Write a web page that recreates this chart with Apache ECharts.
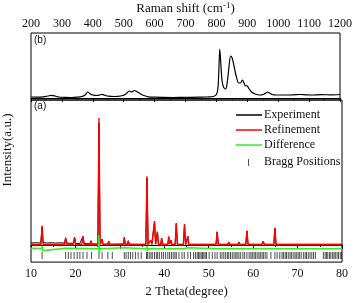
<!DOCTYPE html>
<html><head><meta charset="utf-8">
<script src="https://cdn.jsdelivr.net/npm/echarts@6/dist/echarts.min.js"></script>
<style>html,body{margin:0;padding:0;background:#fff}#c{width:355px;height:303px}</style>
</head><body><div id="c"></div>
<script>
// ---- data ----
var ramanTicks = [200,300,400,500,600,700,800,900,1000,1100,1200];
var thetaTicks = [10,20,30,40,50,60,70,80];
// Raman spectrum (b): [shift cm-1, intensity]
var raman = [[200,1],[220,0.8],[240,1.2],[255,2],[265,2.6],[278,2],[290,1],[310,0.6],[330,0.5],[350,0.8],[365,1.5],[375,3],[384,6],[392,4],[400,3],[412,2.5],[422,3],[430,3.6],[438,2.8],[450,1.8],[470,1.5],[490,2],[505,3.5],[518,7],[526,6],[534,7.5],[545,6],[555,4],[565,2.5],[580,1.2],[600,0.8],[630,0.6],[660,0.5],[700,0.6],[740,0.8],[770,1],[790,1.5],[800,3.5],[805,10],[808,28],[811,49],[814,36],[818,18],[823,11],[830,9],[836,18],[841,32],[846,42],[851,40],[857,32],[864,22],[872,15],[878,15],[884,18],[888,16],[893,12.5],[900,12],[906,9],[914,6],[925,4],[940,3],[952,3.5],[960,5],[966,6],[972,5],[980,3.5],[995,3],[1020,3],[1050,3.2],[1070,3.5],[1090,3.2],[1110,3],[1140,3.3],[1170,3.2],[1200,3.5]];
// XRD (a): experiment, refinement, difference [2theta, intensity]
var experiment = [[10,2],[11,2.3],[12.2,2],[12.3,2.5],[12.5,19],[12.7,2.5],[13.5,2],[14.5,2.2],[15.5,2],[16.5,2.2],[17.55,2],[17.8,7.5],[18.05,2],[18.7,1.8],[18.9,3],[19.1,1.8],[19.55,1.8],[19.8,8],[20.05,1.6],[21,1.5],[21.45,1.5],[21.7,9],[21.95,1.4],[23.3,1.2],[23.5,4.5],[23.7,1],[25.05,1],[25.3,128],[25.55,0.8],[25.8,0.8],[26.0,6],[26.2,0.8],[27.3,0.8],[27.5,4],[27.7,0.8],[29,0.8],[30.8,1],[31.0,8],[31.2,1],[31.7,0.8],[31.9,4.5],[32.1,0.8],[34,0.6],[35.85,0.6],[36.1,70],[36.35,0.6],[36.8,0.6],[37.0,5],[37.2,0.6],[37.55,0.6],[37.8,24],[38.05,0.8],[38.25,0.8],[38.45,13],[38.7,0.6],[39.2,0.6],[39.4,7],[39.6,0.6],[40.8,0.6],[41.0,8],[41.2,1],[41.35,1],[41.5,4.5],[41.7,0.6],[42.45,0.6],[42.7,22],[42.95,0.6],[44.3,0.6],[44.55,21],[44.8,0.6],[45.1,0.6],[45.3,9],[45.5,0.6],[46.8,0.6],[47.0,2],[47.2,0.6],[48.3,0.6],[48.5,2],[48.7,0.6],[51.65,0.6],[51.9,13.5],[52.15,0.6],[54.3,0.6],[54.5,3],[54.7,0.6],[56.6,0.6],[56.8,3],[57.0,0.6],[58.35,0.6],[58.6,14.5],[58.85,0.6],[62.0,0.6],[62.25,4],[62.5,0.6],[64.65,0.6],[64.9,17.5],[65.15,0.6],[68.1,0.6],[68.3,2],[68.5,0.6],[76.3,0.6],[76.5,2],[76.7,0.6],[80,0.6]];
var refinement = [[10,0.5],[12.25,0.5],[12.5,20],[12.75,0.5],[17.55,0.5],[17.8,7],[18.05,0.5],[18.7,0.5],[18.9,2],[19.1,0.5],[19.55,0.5],[19.8,8],[20.05,0.5],[21.45,0.5],[21.7,9],[21.95,0.5],[23.3,0.5],[23.5,4],[23.7,0.5],[25.05,0.5],[25.3,133],[25.55,0.5],[25.8,0.5],[26.0,6],[26.2,0.5],[27.3,0.5],[27.5,4],[27.7,0.5],[30.8,0.5],[31.0,7],[31.2,0.5],[31.7,0.5],[31.9,4],[32.1,0.5],[35.85,0.5],[36.1,72],[36.35,0.5],[36.8,0.5],[37.0,5],[37.2,0.5],[37.55,0.5],[37.8,25],[38.05,0.8],[38.25,0.8],[38.45,14],[38.7,0.5],[39.2,0.5],[39.4,7],[39.6,0.5],[40.8,0.5],[41.0,9],[41.2,1],[41.35,1],[41.5,5],[41.7,0.5],[42.45,0.5],[42.7,23],[42.95,0.5],[44.3,0.5],[44.55,22],[44.8,0.5],[45.1,0.5],[45.3,9],[45.5,0.5],[46.8,0.5],[47.0,2],[47.2,0.5],[48.3,0.5],[48.5,2],[48.7,0.5],[49.5,0.5],[49.7,1.5],[49.9,0.5],[51.65,0.5],[51.9,14],[52.15,0.5],[54.3,0.5],[54.5,3],[54.7,0.5],[56.6,0.5],[56.8,3],[57.0,0.5],[58.35,0.5],[58.6,15],[58.85,0.5],[62.0,0.5],[62.25,4],[62.5,0.5],[64.65,0.5],[64.9,18],[65.15,0.5],[68.1,0.5],[68.3,2],[68.5,0.5],[76.3,0.5],[76.5,2],[76.7,0.5],[80,0.5]];
var difference = [[10,-3.5],[12.4,-3.8],[12.5,-1.5],[12.6,-6],[12.7,-4],[17.8,-3.5],[17.9,-4.5],[18,-4],[25.15,-4],[25.25,10],[25.35,-9],[25.5,-4],[31,-3],[31.1,-4],[36.0,-4],[36.1,-1],[36.2,-6.5],[36.3,-4],[37.7,-4],[37.8,-2.5],[37.9,-5],[38,-4],[42.6,-4],[42.7,-3],[42.8,-5],[42.9,-4],[44.45,-4],[44.55,-2.5],[44.65,-5],[44.75,-4],[45.3,-3],[45.4,-4.5],[45.5,-4],[51.8,-4],[51.9,-2.8],[52,-4.8],[52.1,-4],[58.5,-4],[58.6,-2.8],[58.7,-4.8],[58.8,-4],[64.8,-4],[64.9,-2.5],[65,-5],[65.1,-4],[80,-4]];
var bragg = [12.5,17.8,18.4,19.0,19.7,20.4,21.0,21.7,22.6,23.6,25.3,26.0,27.3,28.3,31.0,31.4,31.9,32.4,32.9,33.5,34.1,34.8,36.0,36.2,36.6,37.0,37.3,37.8,38.2,38.5,38.9,39.4,39.8,40.3,40.8,41.2,41.6,42.0,42.4,42.7,43.3,44.0,44.5,45.3,45.9,46.6,47.0,47.4,47.7,48.0,48.3,48.6,48.9,49.2,49.5,50.1,50.8,51.4,51.9,52.6,53.0,53.4,53.8,54.2,54.5,54.9,55.3,55.7,56.1,56.4,56.8,57.2,57.7,58.1,58.6,59.1,59.5,59.8,60.2,60.5,60.9,61.3,61.6,62.0,62.3,62.7,63.1,64.0,64.9,65.4,66.0,66.5,66.8,67.2,67.5,67.9,68.3,68.6,69.0,69.4,69.7,70.1,70.4,70.8,71.3,71.7,72.0,72.4,72.8,73.2,73.6,74.0,75.8,76.2,76.5,76.8,77.2,77.5,77.9,78.2,78.5,78.9,79.2,79.6,79.9];
var braggLevel = -11;
var legendNames = ['Experiment','Refinement','Difference','Bragg Positions'];

// ---- chart ----
var SERIF = '"Liberation Serif","Times New Roman",serif';
var chart = echarts.init(document.getElementById('c'), null, {renderer:'canvas'});
var braggData = bragg.map(function(v){return [v, braggLevel];});
function xAx(grid, pos, min, max, interval, name, gap, inside, margin){
  return {gridIndex:grid, type:'value', position:pos, min:min, max:max, interval:interval,
    name:name, nameLocation:'middle', nameGap:gap,
    nameTextStyle:{fontFamily:SERIF, fontSize:13, color:'#111'},
    axisLine:{show:true, lineStyle:{color:'#000', width:1}},
    axisTick:{show:true, inside:inside, length:4, lineStyle:{color:'#000'}},
    minorTick:{show:true, splitNumber:2, length:2, lineStyle:{color:'#000'}},
    axisLabel:{fontFamily:SERIF, fontSize:12, color:'#111', margin:margin,
      formatter:function(v){return String(v);}},
    splitLine:{show:false}};
}
var option = {
  animation:false,
  grid:[
    {left:31, right:13, top:33, height:67, show:true, borderColor:'#000', borderWidth:1},
    {left:31, right:13, top:100, height:170, show:true, borderColor:'#000', borderWidth:1}
  ],
  xAxis:[
    Object.assign(xAx(0,'top',200,1200,100,'',0,true,3), {name:'{n|Raman shift (cm}{s|-1}{n|)}', nameGap:16,
      nameTextStyle:{rich:{n:{fontFamily:SERIF,fontSize:13,color:'#111',lineHeight:16},
                           s:{fontFamily:SERIF,fontSize:9,color:'#111',verticalAlign:'top',lineHeight:10}}}}),
    xAx(1,'bottom',10,80,10,'2 Theta(degree)',18,false,6)
  ],
  yAxis:[
    {gridIndex:0, type:'value', min:-2, max:65, show:false},
    {gridIndex:1, type:'value', min:-18, max:152, show:false}
  ],
  series:[
    {name:'Raman', type:'line', xAxisIndex:0, yAxisIndex:0, data:raman, showSymbol:false, symbol:'none', smooth:0.3,
      lineStyle:{color:'#000', width:1.2}},
    {name:legendNames[0], type:'line', xAxisIndex:1, yAxisIndex:1, data:experiment, symbol:'none',
      lineStyle:{color:'#000', width:1}},
    {name:legendNames[1], type:'line', xAxisIndex:1, yAxisIndex:1, data:refinement, symbol:'none',
      lineStyle:{color:'#ff0000', width:1.4}},
    {name:legendNames[2], type:'line', xAxisIndex:1, yAxisIndex:1, data:difference, symbol:'none',
      lineStyle:{color:'#33ee22', width:1.6}},
    {name:legendNames[3], type:'scatter', xAxisIndex:1, yAxisIndex:1, data:braggData, symbol:'rect',
      symbolSize:[1,7], itemStyle:{color:'#222'}}
  ],
  graphic:[
    {type:'text', left:34, top:35, style:{text:'(b)', fontFamily:'"Liberation Sans",Arial,sans-serif', fontSize:10, fill:'#111'}},
    {type:'text', left:34, top:101, style:{text:'(a)', fontFamily:'"Liberation Sans",Arial,sans-serif', fontSize:10, fill:'#111'}},
    {type:'text', x:8, y:150, rotation:Math.PI/2, style:{text:'Intensity(a.u.)', fontFamily:SERIF, fontSize:13, fill:'#111', align:'center', verticalAlign:'middle'}},
    {type:'line', shape:{x1:236,y1:115,x2:262,y2:115}, style:{stroke:'#000', lineWidth:1.5}},
    {type:'line', shape:{x1:236,y1:130,x2:262,y2:130}, style:{stroke:'#ff0000', lineWidth:1.5}},
    {type:'line', shape:{x1:236,y1:145,x2:262,y2:145}, style:{stroke:'#33ee22', lineWidth:1.5}},
    {type:'line', shape:{x1:248.5,y1:159,x2:248.5,y2:166}, style:{stroke:'#555', lineWidth:1}},
    {type:'text', x:264, y:115, style:{text:legendNames[0], fontFamily:SERIF, fontSize:12, fill:'#111', verticalAlign:'middle'}},
    {type:'text', x:264, y:130, style:{text:legendNames[1], fontFamily:SERIF, fontSize:12, fill:'#111', verticalAlign:'middle'}},
    {type:'text', x:264, y:145, style:{text:legendNames[2], fontFamily:SERIF, fontSize:12, fill:'#111', verticalAlign:'middle'}},
    {type:'text', x:264, y:162, style:{text:legendNames[3], fontFamily:SERIF, fontSize:12, fill:'#111', verticalAlign:'middle'}}
  ]
};
chart.setOption(option);
</script></body></html>
